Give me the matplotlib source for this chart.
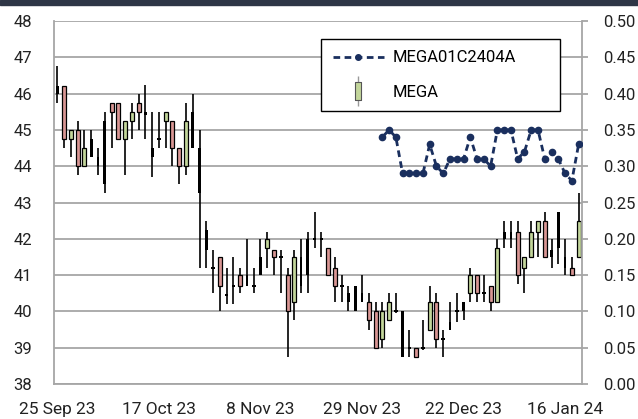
import matplotlib.pyplot as plt
import pandas as pd
from matplotlib.lines import Line2D
from matplotlib.patches import Rectangle

# SET trading days between the first and last bar
holidays = ['2023-10-13', '2023-10-23', '2023-12-05', '2023-12-11',
            '2023-12-29', '2024-01-01']
dates = pd.bdate_range('2023-09-25', '2024-01-18', freq='C', holidays=holidays)

# MEGA daily bars
opens = [46.2, 46.2, 44.75, 45.0, 44.0, 44.75, 44.25, 45.25, 45.75, 45.75,
         44.75, 45.25, 45.75, 45.45, 44.5, 44.75, 45.25, 45.25, 44.5, 44.0,
         45.5, 44.5, 42.25, 41.2, 41.5, 40.45, 40.7, 41.0, 41.0, 40.7,
         41.5, 41.75, 41.7, 41.5, 41.0, 40.25, 41.5, 42.0, 42.0, 42.0,
         41.75, 41.2, 40.7, 40.5, 40.7, 40.5, 40.25, 40.0, 39.25, 39.75,
         40.0, 40.0, 39.0, 39.0, 39.0, 39.5, 40.25, 39.25, 39.7, 40.0,
         40.25, 40.5, 41.0, 40.5, 40.7, 40.25, 42.2, 42.2, 42.2, 41.2,
         41.5, 42.2, 42.5, 41.7, 42.75, 41.5, 41.2, 41.5]
highs = [46.75, 46.2, 45.0, 45.25, 45.0, 45.0, 44.5, 45.5, 45.75, 45.75,
         45.25, 45.75, 46.0, 46.25, 45.5, 45.5, 45.5, 45.25, 44.5, 45.75,
         46.0, 45.0, 42.5, 41.7, 41.5, 41.2, 41.5, 41.2, 42.0, 41.2,
         42.0, 42.2, 41.7, 41.7, 41.2, 41.7, 42.0, 42.2, 42.75, 42.2,
         41.75, 41.5, 41.0, 40.7, 40.7, 41.0, 40.5, 40.25, 40.25, 40.5,
         40.5, 40.0, 39.5, 39.0, 39.75, 40.7, 40.5, 39.5, 40.25, 40.5,
         40.25, 41.2, 41.0, 41.0, 40.7, 42.0, 42.5, 42.5, 42.5, 41.5,
         42.5, 42.5, 42.75, 42.0, 42.75, 42.0, 41.5, 43.25]
lows = [45.75, 44.5, 44.25, 43.75, 44.0, 44.25, 43.75, 43.25, 44.5, 44.75,
        43.75, 44.75, 45.0, 44.75, 43.7, 44.5, 44.5, 44.0, 43.5, 43.75,
        44.5, 41.2, 41.2, 40.5, 40.0, 40.2, 40.2, 40.5, 40.7, 40.5,
        41.0, 41.2, 41.0, 40.5, 38.75, 39.75, 40.5, 40.5, 41.75, 41.5,
        41.0, 40.25, 40.25, 40.0, 40.0, 40.25, 39.5, 39.0, 39.0, 39.75,
        39.95, 38.75, 38.75, 38.75, 38.95, 39.5, 39.0, 38.75, 39.5, 39.7,
        39.75, 40.25, 40.25, 40.25, 40.0, 40.25, 41.75, 41.75, 40.75, 40.5,
        41.5, 41.5, 41.5, 41.2, 41.3, 41.0, 41.0, 41.5]
closes = [46.0, 44.75, 45.0, 44.0, 44.5, 44.25, 44.0, 43.5, 45.5, 44.75,
          45.25, 45.5, 45.5, 45.45, 44.25, 44.75, 45.5, 44.5, 44.0, 45.25,
          44.5, 43.25, 41.7, 41.2, 40.7, 40.45, 40.7, 40.7, 40.7, 40.7,
          41.0, 42.0, 41.5, 41.5, 40.0, 41.5, 40.7, 41.0, 42.0, 42.0,
          41.0, 40.7, 40.7, 40.25, 40.0, 40.25, 39.75, 39.0, 40.0, 40.25,
          40.0, 38.75, 39.0, 38.75, 39.0, 40.25, 39.25, 39.25, 39.5, 40.0,
          40.0, 41.0, 40.5, 40.5, 40.25, 41.75, 42.0, 42.0, 41.0, 41.5,
          42.2, 42.5, 41.5, 41.5, 41.75, 41.2, 41.0, 42.5]
# bars that the source chart shows as solid black bodies
solid_days = [0, 5, 6, 7, 14, 20, 21, 22, 28, 30, 36, 37, 43, 44, 45, 51,
              58, 60, 66, 67, 73, 74, 75]

# derivative warrant MEGA01C2404A, listed from 4 Dec 23
dw_start = 48
dw_close = [0.34, 0.35, 0.34, 0.29, 0.29, 0.29, 0.29, 0.33, 0.30, 0.29,
            0.31, 0.31, 0.31, 0.34, 0.31, 0.31, 0.30, 0.35, 0.35, 0.35,
            0.31, 0.32, 0.35, 0.35, 0.31, 0.32, 0.31, 0.29, 0.28, 0.33]

UP = '#c3d69b'
DOWN = '#d99694'
NAVY = '#1a2f5e'
GRID = '#a6a6a6'
FS = 12

plt.rcParams['font.family'] = ['Roboto', 'DejaVu Sans']
fig = plt.figure(figsize=(6.38, 4.19), dpi=100)
fig.patches.append(Rectangle((0, 1 - 5 / 419), 1, 5 / 419, transform=fig.transFigure,
                             color='#2e3646', zorder=0))
ax = fig.add_axes([54 / 638, 1 - 384 / 419, 528 / 638, 363 / 419])

x = list(range(len(dates)))
for i in x:
    o, h, l, c = opens[i], highs[i], lows[i], closes[i]
    ax.vlines(i, l, h, color='black', lw=1.2, zorder=3)
    if i in solid_days:
        ax.bar(i, abs(c - o), bottom=min(o, c), width=0.42, color='black', zorder=4)
    elif o == c:
        ax.bar(i, 0.06, bottom=o - 0.03, width=0.55, color='black', zorder=4)
    else:
        ax.bar(i, abs(c - o), bottom=min(o, c), width=0.6,
               color=UP if c > o else DOWN, edgecolor='black', lw=0.9, zorder=4)

ax.set_xlim(-0.5, len(dates) - 0.5)
ax.set_ylim(38, 48)
ax.set_yticks(range(38, 49))
ax.yaxis.grid(True, color=GRID, lw=1.3)
ax.set_axisbelow(True)
ticks = x[::15]
ax.set_xticks(ticks)
ax.set_xticklabels([f"{d.day} {d.strftime('%b %y')}" for d in dates[ticks]])
ax.tick_params(axis='x', length=0, pad=13, labelsize=FS + 0.5, colors='#222222')
ax.tick_params(axis='y', length=0, pad=16, labelsize=FS, colors='#222222')
for s in ['top', 'right']:
    ax.spines[s].set_visible(False)
for s in ['left', 'bottom']:
    ax.spines[s].set_color(GRID)
    ax.spines[s].set_linewidth(1.3)

ax2 = ax.twinx()
ax2.plot(x[dw_start:], dw_close, color=NAVY, lw=2, ls=(0, (2.4, 1.6)),
         marker='o', ms=4.5, zorder=5)
ax2.set_ylim(0, 0.5)
ax2.set_yticks([k / 100 for k in range(0, 51, 5)])
ax2.set_yticklabels([f"{k / 100:.2f}" for k in range(0, 51, 5)])
ax2.tick_params(axis='y', length=4, width=1.3, color=GRID, pad=11,
                labelsize=FS, colors='#222222')
for s in ['top', 'left', 'bottom']:
    ax2.spines[s].set_visible(False)
ax2.spines['right'].set_color(GRID)
ax2.spines['right'].set_linewidth(1.3)

dw_handle = Line2D([], [], color=NAVY, lw=2, ls=(0, (2.4, 1.6)), marker='o', ms=4)
wick = Line2D([], [], color='#999999', marker='|', ms=22, mew=1, ls='none')
body = Line2D([], [], marker=[(-1, -3), (1, -3), (1, 3), (-1, 3), (-1, -3)], ms=13,
              mfc=UP, mec='#555555', mew=0.8, ls='none')
leg = ax2.legend([dw_handle, (wick, body)], ['MEGA01C2404A', 'MEGA'],
                 loc='upper left', mode='expand', borderaxespad=0,
                 bbox_to_anchor=(0.506, 0.749, 0.452, 0.201),
                 fontsize=12, handlelength=3.1, handletextpad=0.5,
                 labelspacing=1.18, borderpad=0.68, fancybox=False, framealpha=1)
leg.get_frame().set_edgecolor('black')
leg.get_frame().set_linewidth(1)

plt.savefig('out.png', dpi=100)
